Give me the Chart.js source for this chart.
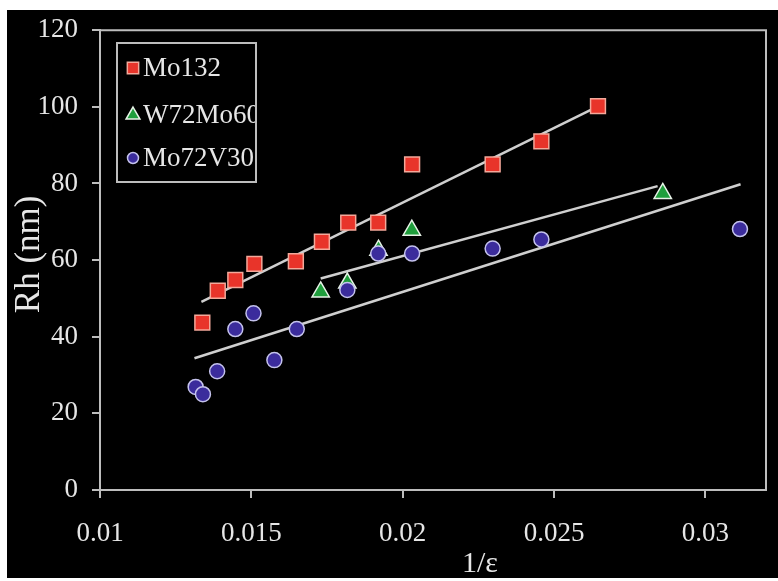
<!DOCTYPE html>
<html>
<head>
<meta charset="utf-8">
<script src="https://cdn.jsdelivr.net/npm/chart.js@4.4.1/dist/chart.umd.min.js"></script>
<style>
  html, body { margin: 0; padding: 0; background: #ffffff; }
  #wrap { width: 778px; height: 581px; }
</style>
</head>
<body>
<div id="wrap"><canvas id="c" width="778" height="581"></canvas></div>
<script>
// ---- data ----
const seriesNames = ['Mo132', 'W72Mo60', 'Mo72V30'];

const mo132X = [0.01338, 0.01389, 0.01447, 0.0151, 0.01647, 0.01733, 0.0182, 0.01919, 0.02031, 0.02297, 0.02458, 0.02645];
const mo132Y = [43.7, 52.0, 54.8, 59.0, 59.7, 64.8, 69.8, 69.8, 85.0, 85.0, 91.0, 100.2];

const w72X = [0.01729, 0.01817, 0.0192, 0.0203, 0.02859];
const w72Y = [51.7, 54.0, 62.6, 67.8, 77.4];

const mo72X = [0.01316, 0.0134, 0.01387, 0.01447, 0.01507, 0.01576, 0.0165, 0.01817, 0.01919, 0.02031, 0.02297, 0.02458, 0.03114];
const mo72Y = [26.9, 25.0, 31.0, 42.0, 46.1, 33.9, 42.0, 52.2, 61.7, 61.7, 63.0, 65.4, 68.1];

// trend lines (end points)
const mo132FitX = [0.01335, 0.02623];
const mo132FitY = [49.1, 99.3];
const w72FitX = [0.01729, 0.02842];
const w72FitY = [55.2, 79.3];
const mo72FitX = [0.01312, 0.03116];
const mo72FitY = [34.4, 79.8];

const xTickValues = [0.01, 0.015, 0.02, 0.025, 0.03];
const xTickLabels = ['0.01', '0.015', '0.02', '0.025', '0.03'];
const yTickValues = [0, 20, 40, 60, 80, 100, 120];

const xTitle = '1/\u03b5';
const yTitle = 'Rh (nm)';

// ---- helpers ----
const pts = (xs, ys) => xs.map((x, i) => ({ x: x, y: ys[i] }));
const SERIF = "'Liberation Serif', 'DejaVu Serif', serif";
const TEXT = '#e6e6e6';
const AXIS = '#bdbdbd';

const styles = [
  { shape: 'rect', fill: '#e8342a', border: '#f3a89a', r: 10.5, lr: 8 },
  { shape: 'triangle', fill: '#1f9e3c', border: '#e6f2e6', r: 10, lr: 8 },
  { shape: 'circle', fill: '#3b2c9c', border: '#c4c2ec', r: 7.5, lr: 5.5 }
];

const fitStyle = { borderColor: '#cfcfcf', borderWidth: 2.5, pointRadius: 0, showLine: true, fill: false, order: 2 };

const bgPlugin = {
  id: 'bg',
  beforeDraw(chart) {
    const ctx = chart.ctx;
    ctx.save();
    ctx.fillStyle = '#ffffff';
    ctx.fillRect(0, 0, chart.width, chart.height);
    ctx.fillStyle = '#000000';
    ctx.fillRect(7, 10, chart.width - 7, 568);
    ctx.restore();
  },
  beforeDatasetsDraw(chart) {
    const a = chart.chartArea, ctx = chart.ctx;
    ctx.save();
    ctx.strokeStyle = AXIS;
    ctx.lineWidth = 2;
    ctx.beginPath();
    ctx.moveTo(a.left, a.top);
    ctx.lineTo(a.right, a.top);
    ctx.lineTo(a.right, a.bottom);
    ctx.stroke();
    ctx.restore();
  },
  afterDraw(chart) {
    const ctx = chart.ctx;
    const xs = chart.scales.x, ys = chart.scales.y;
    ctx.save();
    ctx.fillStyle = TEXT;
    // x title
    ctx.font = '30px ' + SERIF;
    ctx.textAlign = 'center';
    ctx.textBaseline = 'middle';
    ctx.fillText(xTitle, xs.getPixelForValue(0.02255), 564);
    // y title
    ctx.translate(30, ys.getPixelForValue(61.5));
    ctx.rotate(-Math.PI / 2);
    ctx.font = '35px ' + SERIF;
    ctx.fillText(yTitle, 0, 0);
    ctx.restore();

    // legend box
    const bx = 117, by = 43, bw = 139, bh = 139;
    ctx.save();
    ctx.fillStyle = '#000000';
    ctx.fillRect(bx, by, bw, bh);
    ctx.strokeStyle = AXIS;
    ctx.lineWidth = 2;
    ctx.strokeRect(bx, by, bw, bh);
    ctx.beginPath();
    ctx.rect(bx, by, bw - 1, bh);
    ctx.clip();
    const rowY = [68, 115, 158];
    seriesNames.forEach((name, i) => {
      const s = styles[i];
      ctx.fillStyle = s.fill;
      ctx.strokeStyle = s.border;
      ctx.lineWidth = 1.5;
      Chart.helpers.drawPoint(ctx, { pointStyle: s.shape, radius: s.lr, borderWidth: 1.5 }, 133, rowY[i]);
      ctx.fillStyle = TEXT;
      ctx.font = '27px ' + SERIF;
      ctx.textAlign = 'left';
      ctx.textBaseline = 'middle';
      ctx.fillText(name, 143, rowY[i] + 1);
    });
    ctx.restore();
  }
};

const ctx = document.getElementById('c').getContext('2d');
new Chart(ctx, {
  type: 'scatter',
  data: {
    datasets: [
      { label: seriesNames[0], data: pts(mo132X, mo132Y), pointStyle: styles[0].shape, pointRadius: styles[0].r, pointBackgroundColor: styles[0].fill, pointBorderColor: styles[0].border, pointBorderWidth: 1.5, order: 0 },
      { label: seriesNames[1], data: pts(w72X, w72Y), pointStyle: styles[1].shape, pointRadius: styles[1].r, pointBackgroundColor: styles[1].fill, pointBorderColor: styles[1].border, pointBorderWidth: 1.5, order: 1 },
      { label: seriesNames[2], data: pts(mo72X, mo72Y), pointStyle: styles[2].shape, pointRadius: styles[2].r, pointBackgroundColor: styles[2].fill, pointBorderColor: styles[2].border, pointBorderWidth: 1.5, order: 0 },
      Object.assign({ label: 'fit1', data: pts(mo132FitX, mo132FitY) }, fitStyle),
      Object.assign({ label: 'fit2', data: pts(w72FitX, w72FitY) }, fitStyle),
      Object.assign({ label: 'fit3', data: pts(mo72FitX, mo72FitY) }, fitStyle)
    ]
  },
  options: {
    responsive: false,
    animation: false,
    devicePixelRatio: 1,
    layout: { padding: { top: 30, right: 8, left: 0, bottom: 0 } },
    plugins: { legend: { display: false }, tooltip: { enabled: false } },
    scales: {
      x: {
        type: 'linear',
        min: 0.01,
        max: 0.032,
        afterBuildTicks(scale) { scale.ticks = xTickValues.map(v => ({ value: v })); },
        afterFit(scale) { scale.height = 91; },
        ticks: {
          color: TEXT,
          font: { family: SERIF, size: 27 },
          padding: 20,
          maxRotation: 0,
          autoSkip: false,
          callback: (v) => { const i = xTickValues.findIndex(t => Math.abs(t - v) < 1e-9); return i >= 0 ? xTickLabels[i] : ''; }
        },
        grid: { display: true, drawOnChartArea: false, drawTicks: true, tickLength: 8, color: AXIS, lineWidth: 2 },
        border: { display: true, color: AXIS, width: 2 }
      },
      y: {
        type: 'linear',
        min: 0,
        max: 120,
        afterBuildTicks(scale) { scale.ticks = yTickValues.map(v => ({ value: v })); },
        afterFit(scale) { scale.width = 100; },
        ticks: {
          color: TEXT,
          font: { family: SERIF, size: 27 },
          padding: 14,
          autoSkip: false
        },
        grid: { display: true, drawOnChartArea: false, drawTicks: true, tickLength: 8, color: AXIS, lineWidth: 2 },
        border: { display: true, color: AXIS, width: 2 }
      }
    }
  },
  plugins: [bgPlugin]
});
</script>
</body>
</html>
